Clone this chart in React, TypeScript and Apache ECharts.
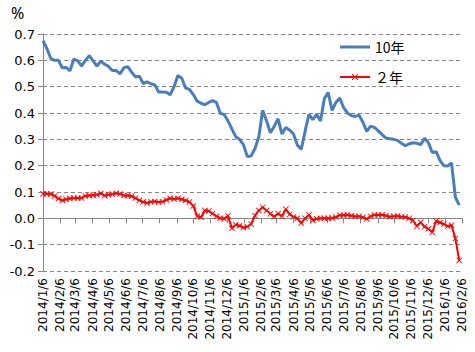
import React, { useEffect, useRef } from "react";
import * as echarts from "echarts";

// Weekly observations starting 2014/1/6
const startDate = "2014/1/6";
const tenYear = [
  0.675, 0.645, 0.608, 0.600, 0.600, 0.572, 0.573, 0.560, 0.605, 0.598,
  0.578, 0.600, 0.618, 0.598, 0.578, 0.597, 0.585, 0.577, 0.561, 0.561,
  0.549, 0.572, 0.576, 0.555, 0.537, 0.540, 0.512, 0.518, 0.511, 0.507,
  0.480, 0.480, 0.479, 0.469, 0.500, 0.542, 0.532, 0.495, 0.490, 0.470,
  0.445, 0.437, 0.431, 0.440, 0.447, 0.440, 0.399, 0.394, 0.370, 0.340,
  0.310, 0.300, 0.280, 0.235, 0.237, 0.265, 0.310, 0.410, 0.370, 0.325,
  0.350, 0.378, 0.320, 0.345, 0.335, 0.320, 0.278, 0.262, 0.330, 0.395,
  0.375, 0.395, 0.370, 0.455, 0.478, 0.410, 0.440, 0.457, 0.420, 0.400,
  0.390, 0.387, 0.392, 0.365, 0.330, 0.350, 0.345, 0.332, 0.318, 0.305,
  0.302, 0.300, 0.296, 0.285, 0.276, 0.283, 0.287, 0.285, 0.280, 0.304,
  0.287, 0.250, 0.253, 0.220, 0.200, 0.199, 0.210, 0.080, 0.050,
];
const twoYear = [
  0.093, 0.093, 0.092, 0.085, 0.075, 0.068, 0.072, 0.075, 0.077, 0.077,
  0.077, 0.085, 0.087, 0.088, 0.090, 0.095, 0.086, 0.090, 0.092, 0.095,
  0.092, 0.087, 0.087, 0.084, 0.077, 0.068, 0.062, 0.058, 0.063, 0.064,
  0.062, 0.063, 0.070, 0.076, 0.073, 0.076, 0.072, 0.068, 0.062, 0.047,
  0.008, 0.004, 0.030, 0.028, 0.018, 0.008, 0.000, -0.002, 0.010, -0.038,
  -0.024, -0.028, -0.035, -0.032, -0.022, 0.010, 0.030, 0.042, 0.030, 0.017,
  0.006, 0.018, 0.008, 0.035, 0.015, 0.006, 0.000, -0.018, 0.000, 0.013,
  -0.008, -0.002, 0.000, 0.000, 0.000, 0.001, 0.005, 0.012, 0.012, 0.013,
  0.010, 0.007, 0.008, 0.004, -0.003, 0.008, 0.013, 0.013, 0.013, 0.010,
  0.006, 0.008, 0.009, 0.006, 0.005, 0.000, -0.008, -0.030, -0.015, -0.032,
  -0.040, -0.053, -0.010, -0.016, -0.022, -0.030, -0.026, -0.077, -0.160,
];
const tickLabels = [
  "2014/1/6", "2014/2/6", "2014/3/6", "2014/4/6", "2014/5/6", "2014/6/6",
  "2014/7/6", "2014/8/6", "2014/9/6", "2014/10/6", "2014/11/6", "2014/12/6",
  "2015/1/6", "2015/2/6", "2015/3/6", "2015/4/6", "2015/5/6", "2015/6/6",
  "2015/7/6", "2015/8/6", "2015/9/6", "2015/10/6", "2015/11/6", "2015/12/6",
  "2016/1/6", "2016/2/6",
];
const seriesNames = ["10年", "２年"];

function dayOf(s: string): number {
  const [y, m, d] = s.split("/").map(Number);
  return Date.UTC(y, m - 1, d) / 86400000;
}

export default function App() {
  const ref = useRef<HTMLDivElement>(null);
  useEffect(() => {
    document.body.style.margin = "0";
    if (!ref.current) return;
    const chart = echarts.init(ref.current, undefined, { renderer: "svg" });
    const base = dayOf(startDate);
    const tickDays = tickLabels.map((t) => dayOf(t) - base);
    const labelMap: Record<number, string> = {};
    tickDays.forEach((d, i) => (labelMap[d] = tickLabels[i]));
    const tenData = tenYear.map((v, i) => [i * 7, v]);
    const twoData = twoYear.map((v, i) => [i * 7, v]);
    const minX = tickDays[0];
    const maxX = tickDays[tickDays.length - 1];
    const gray = "#868686";
    const blue = "#4a7ebb";
    const cross =
      "path://M0,1L1,0L5,4L9,0L10,1L6,5L10,9L9,10L5,6L1,10L0,9L4,5Z";

    chart.setOption({
      animation: false,
      backgroundColor: "#ffffff",
      grid: { left: 43, right: 13, top: 34, bottom: 81, containLabel: false },
      legend: {
        orient: "vertical",
        left: 334,
        top: 35,
        itemWidth: 30,
        itemHeight: 8,
        itemGap: 16,
        textStyle: {
          fontSize: 14,
          color: "#000",
          fontFamily: "Noto Sans CJK JP",
        },
        data: [
          { name: seriesNames[0], icon: "path://M0,0L30,0L30,3L0,3Z" },
          { name: seriesNames[1] },
        ],
      },
      graphic: [
        {
          type: "text",
          left: 11,
          top: 5,
          style: {
            text: "%",
            fontSize: 16,
            fill: "#000",
            fontFamily: "Noto Sans",
          },
        },
      ],
      xAxis: [
        {
          type: "value",
          min: minX,
          max: maxX,
          position: "bottom",
          axisLine: { show: false, onZero: false },
          axisTick: { show: false },
          splitLine: { show: false },
          axisLabel: {
            customValues: tickDays,
            rotate: 90,
            margin: 7,
            fontSize: 12,
            color: "#000",
            fontFamily: "DejaVu Sans",
            formatter: (v: number) => labelMap[v] ?? "",
          },
        },
        {
          type: "value",
          min: minX,
          max: maxX,
          position: "bottom",
          axisLine: { show: true, onZero: true, lineStyle: { color: gray, width: 1 } },
          axisTick: {
            show: true,
            customValues: tickDays,
            length: 5,
            lineStyle: { color: gray },
          },
          axisLabel: { show: false },
          splitLine: { show: false },
        },
      ],
      yAxis: {
        type: "value",
        min: -0.2,
        max: 0.7,
        interval: 0.1,
        axisLine: { show: true, lineStyle: { color: gray, width: 1 } },
        axisTick: { show: true, length: 5, lineStyle: { color: gray } },
        axisLabel: {
          fontSize: 13,
          color: "#000",
          margin: 8,
          fontFamily: "DejaVu Sans",
          formatter: (v: number) => v.toFixed(1),
        },
        splitLine: {
          show: true,
          lineStyle: { color: gray, type: [4, 3], width: 1 },
        },
      },
      series: [
        {
          name: seriesNames[0],
          type: "line",
          xAxisIndex: 0,
          data: tenData,
          symbol: "none",
          lineStyle: { color: blue, width: 3 },
          itemStyle: { color: blue },
          z: 3,
        },
        {
          name: seriesNames[1],
          type: "line",
          xAxisIndex: 0,
          data: twoData,
          symbol: cross,
          symbolSize: 6,
          showSymbol: true,
          lineStyle: { color: "#ff0000", width: 2 },
          itemStyle: { color: "#ff0000" },
          z: 4,
        },
      ],
    });
    return () => chart.dispose();
  }, []);
  return <div ref={ref} style={{ width: 475, height: 352 }} />;
}
